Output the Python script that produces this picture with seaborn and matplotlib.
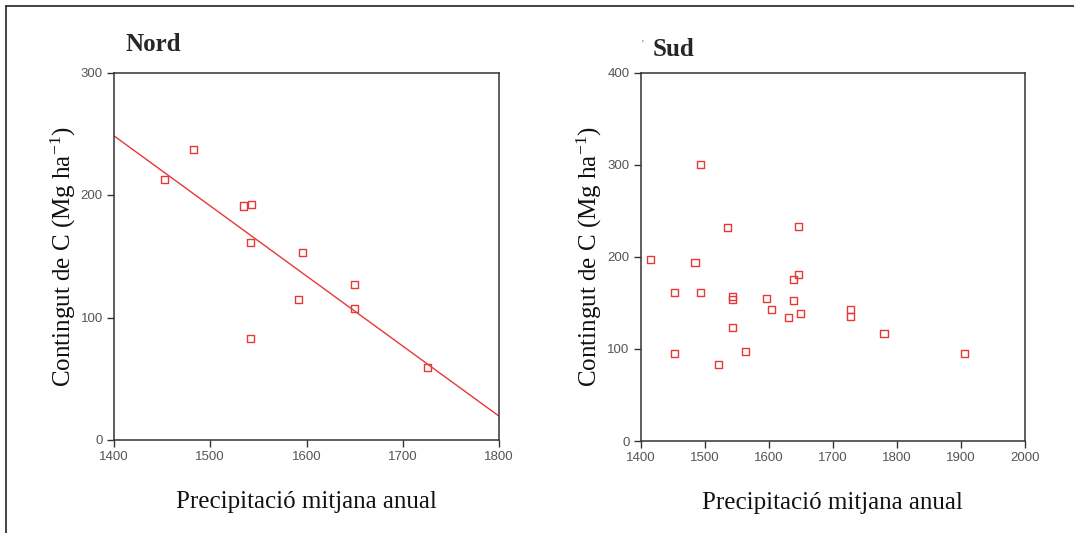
import matplotlib
matplotlib.use("Agg")
import matplotlib.pyplot as plt
import seaborn as sns
import pandas as pd
from matplotlib.lines import Line2D

# Nord: annual precipitation (mm) vs carbon content (Mg/ha)
nord_precip = [1452, 1483, 1535, 1543, 1542, 1596, 1592, 1650, 1650, 1542, 1726]
nord_carboni = [213, 237, 191, 192, 161, 153, 115, 127, 107, 83, 59]

# Sud
sud_precip = [1416, 1493, 1453, 1493, 1485, 1536, 1647, 1453, 1522, 1543, 1543,
              1543, 1564, 1597, 1604, 1631, 1639, 1647, 1639, 1650, 1728, 1728,
              1780, 1905]
sud_carboni = [197, 300, 161, 161, 194, 232, 233, 95, 83, 157, 154,
               123, 97, 155, 143, 134, 175, 181, 153, 138, 143, 135,
               117, 95]

nord_xticks = [1400, 1500, 1600, 1700, 1800]
nord_yticks = [0, 100, 200, 300]
sud_xticks = [1400, 1500, 1600, 1700, 1800, 1900, 2000]
sud_yticks = [0, 100, 200, 300, 400]

xlabel = "Precipitació mitjana anual"
ylabel = r"Contingut de C (Mg ha$^{\mathregular{-1}}$)"

nord = pd.DataFrame({"precip": nord_precip, "carboni": nord_carboni})
sud = pd.DataFrame({"precip": sud_precip, "carboni": sud_carboni})

sns.set_style("ticks")
plt.rcParams["mathtext.fontset"] = "custom"
plt.rcParams["mathtext.rm"] = "Liberation Serif"
plt.rcParams["mathtext.it"] = "Liberation Serif"

RED = "#e63838"
SPINE = "#333333"
TICKCOL = "#555555"

fig = plt.figure(figsize=(10.74, 5.33), dpi=100)
W, H = 1074, 533


def make_axes(left, right, top, bottom):
    return fig.add_axes([left / W, 1 - bottom / H, (right - left) / W, (bottom - top) / H])


ax1 = make_axes(114, 499, 72.5, 440)
ax2 = make_axes(640.5, 1025, 72.5, 441)


def style(ax, xt, yt):
    ax.set_xlim(xt[0], xt[-1])
    ax.set_ylim(yt[0], yt[-1])
    ax.set_xticks(xt)
    ax.set_yticks(yt)
    for s in ax.spines.values():
        s.set_visible(True)
        s.set_color(SPINE)
        s.set_linewidth(1.1)
    ax.tick_params(axis="both", direction="out", length=5, width=1.0, color=SPINE,
                   labelsize=9.5, labelcolor=TICKCOL, pad=3, top=False, right=False)
    for lab in ax.get_xticklabels() + ax.get_yticklabels():
        lab.set_fontfamily("Liberation Sans")
    ax.set_xlabel(xlabel, family="Liberation Serif", fontsize=18, color="#111111", labelpad=20)
    ax.set_ylabel(ylabel, family="Liberation Serif", fontsize=18, color="#111111", labelpad=2)


# Nord panel: scatter plus fitted linear regression across the full axis range
style(ax1, nord_xticks, nord_yticks)
sns.regplot(data=nord, x="precip", y="carboni", ax=ax1, scatter=False, ci=None,
            truncate=False, line_kws={"color": RED, "linewidth": 1.0})
sns.scatterplot(data=nord, x="precip", y="carboni", ax=ax1, marker="s", s=26,
                facecolors="none", edgecolor=RED, linewidth=1.0, zorder=3)
style(ax1, nord_xticks, nord_yticks)

# Sud panel: scatter only
sns.scatterplot(data=sud, x="precip", y="carboni", ax=ax2, marker="s", s=26,
                facecolors="none", edgecolor=RED, linewidth=1.0, zorder=3)
style(ax2, sud_xticks, sud_yticks)

# Panel titles
fig.text(125 / W, 1 - 51 / H, "Nord", family="Liberation Serif", fontweight="bold",
         fontsize=18, ha="left", va="baseline")
fig.text(652.5 / W, 1 - 56.5 / H, "Sud", family="Liberation Serif", fontweight="bold",
         fontsize=18, ha="left", va="baseline")
fig.text(641 / W, 1 - 48 / H, "'", family="Liberation Sans", fontsize=7,
         color="#666666", ha="left", va="baseline")

# Outer frame lines (top and left)
fig.add_artist(Line2D([6 / W, 1.0], [1 - 6 / H, 1 - 6 / H], transform=fig.transFigure,
                      color="#222222", linewidth=1.2))
fig.add_artist(Line2D([6 / W, 6 / W], [0.0, 1 - 6 / H], transform=fig.transFigure,
                      color="#222222", linewidth=1.2))

fig.savefig("out.png", dpi=100)
